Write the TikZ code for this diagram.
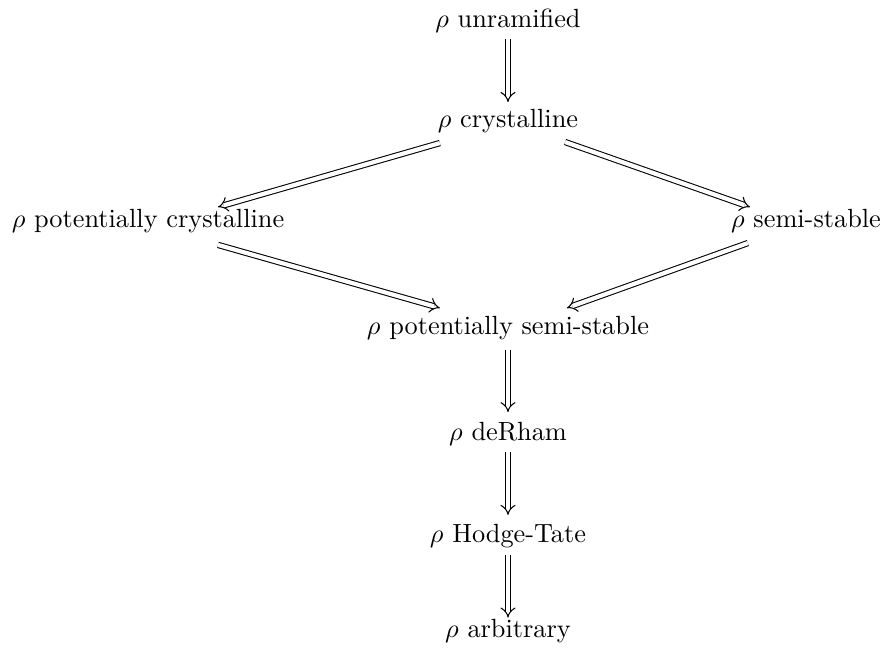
\documentclass[tikz,border=0pt]{standalone}
\usetikzlibrary{arrows.meta}
\begin{document}
\begin{tikzpicture}[x=0.3802pt,y=-0.3802pt,
  lbl/.style={anchor=base, inner sep=0pt},
  impl/.style={double, double distance=1.6pt, line width=0.4pt, -{Implies}}]
\useasboundingbox (0,0) rectangle (883,652);
% the conditions, strongest at the top
\node[lbl] (unr) at (508,27)  {$\rho$ unramified};
\node[lbl] (cry) at (508,127) {$\rho$ crystalline};
\node[lbl] (pcr) at (148,227) {$\rho$ potentially crystalline};
\node[lbl] (sst) at (806,227) {$\rho$ semi-stable};
\node[lbl] (pss) at (508,334) {$\rho$ potentially semi-stable};
\node[lbl] (dR)  at (508,440) {$\rho$ deRham};
\node[lbl] (HT)  at (508,542) {$\rho$ Hodge-Tate};
\node[lbl] (arb) at (508,637) {$\rho$ arbitrary};
% implications
\draw[impl] ([yshift=-4.6pt]unr.base) -- ([yshift=9.5pt]cry.base);
\draw[impl] ([xshift=-25.9pt,yshift=-6.1pt]cry.base) -- ([xshift=26.6pt,yshift=7.6pt]pcr.base);
\draw[impl] ([xshift=21.7pt,yshift=-5.7pt]cry.base) -- ([xshift=-21.3pt,yshift=7.6pt]sst.base);
\draw[impl] ([xshift=26.6pt,yshift=-6.8pt]pcr.base) -- ([xshift=-25.9pt,yshift=9.9pt]pss.base);
\draw[impl] ([xshift=-22.1pt,yshift=-6.1pt]sst.base) -- ([xshift=22.4pt,yshift=9.9pt]pss.base);
\draw[impl] ([yshift=-5.9pt]pss.base) -- ([yshift=10.6pt]dR.base);
\draw[impl] ([yshift=-4.6pt]dR.base) -- ([yshift=10.3pt]HT.base);
\draw[impl] ([yshift=-4.9pt]HT.base) -- ([yshift=7.4pt]arb.base);
\end{tikzpicture}
\end{document}
